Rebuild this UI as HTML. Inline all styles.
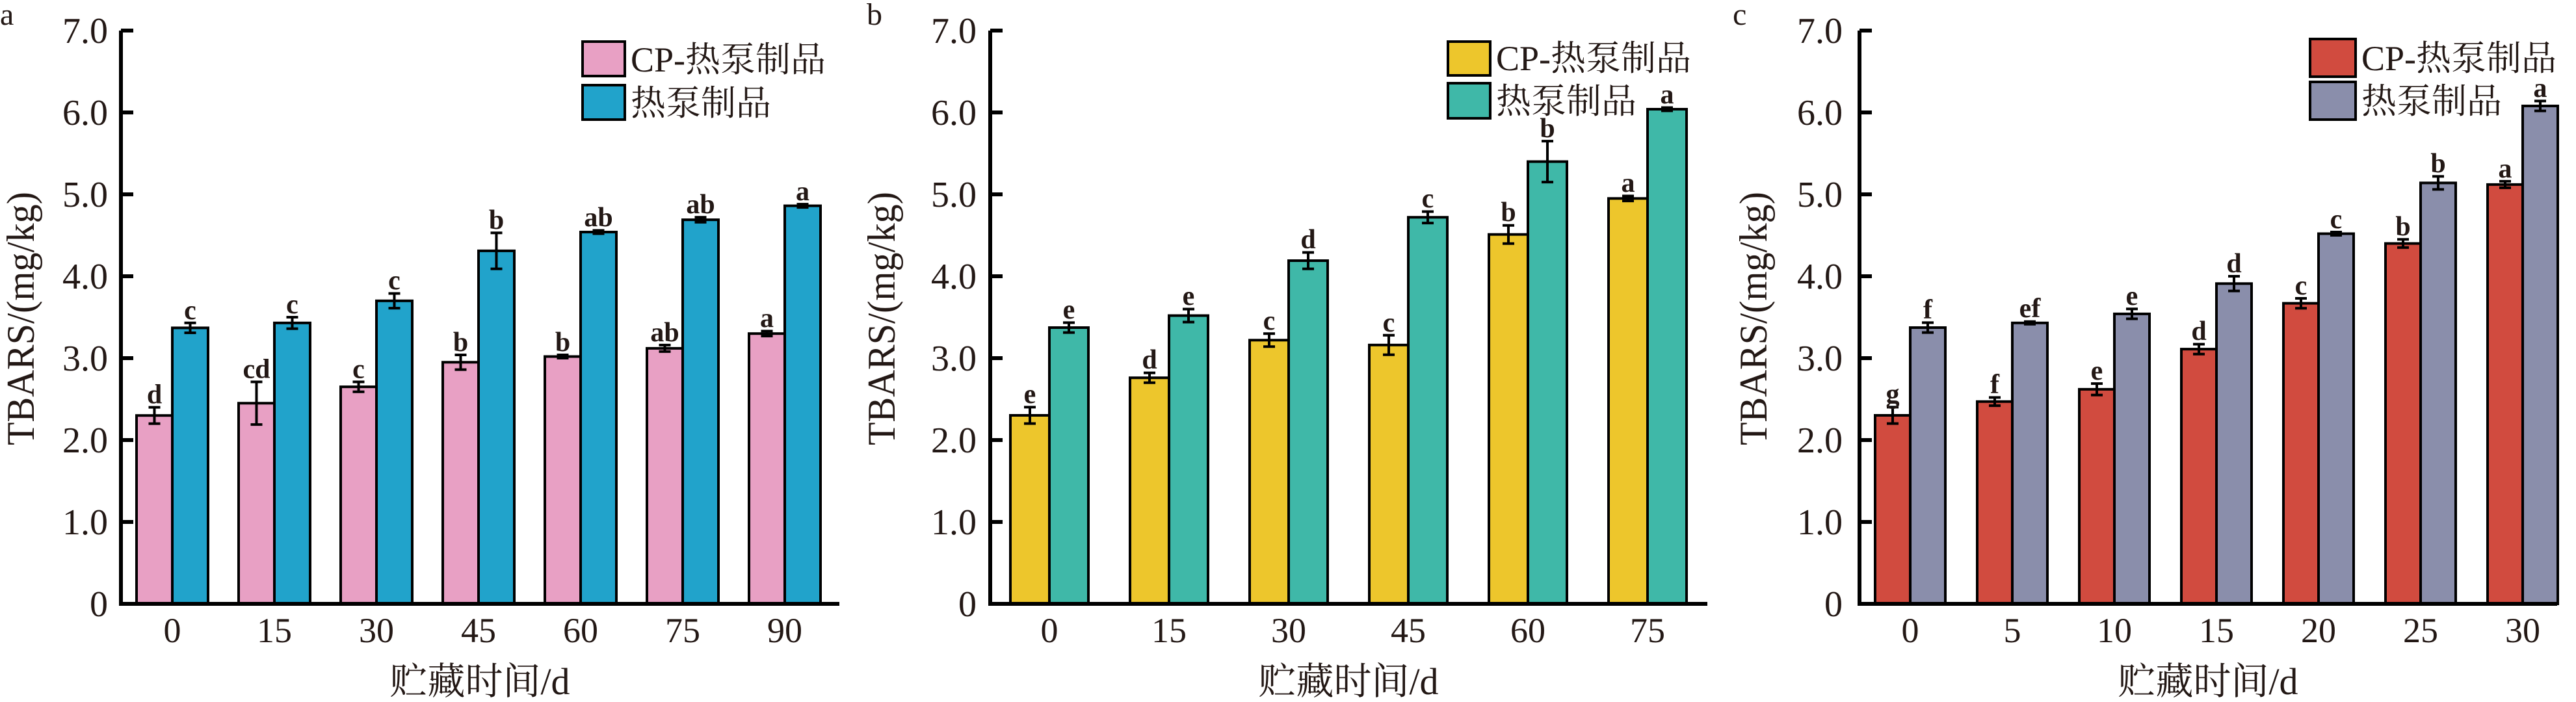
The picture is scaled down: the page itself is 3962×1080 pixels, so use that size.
<!DOCTYPE html>
<html><head><meta charset="utf-8"><style>
html,body{margin:0;padding:0;background:#fff}
svg{display:block}
text{font-family:"Liberation Serif","Noto Serif CJK SC",serif;fill:#231815}
.t{font-size:56px}
.x{font-size:54px;text-anchor:middle}
.ttl{font-size:58px;text-anchor:middle}
.yt{font-size:60px;text-anchor:middle}
.lg{font-size:54px}
.l{font-size:42px;font-weight:bold;text-anchor:middle}
.ax{fill:none;stroke:#000;stroke-width:6}
.e{fill:none;stroke:#000;stroke-width:4}
rect.b{stroke:#000;stroke-width:4}
</style></head><body>
<svg width="3962" height="1080" viewBox="0 0 3962 1080" xmlns="http://www.w3.org/2000/svg">
<text x="0" y="38" style="font-size:48px">a</text>
<text x="1333" y="38" style="font-size:48px">b</text>
<text x="2665" y="38" style="font-size:48px">c</text>

<!-- Panel a -->
<g transform="translate(186,0)">
<g fill="#E8A0C4">
<rect class="b" x="24" y="639.2" width="55" height="289.8"/>
<rect class="b" x="181" y="620.3" width="55" height="308.7"/>
<rect class="b" x="338" y="595.1" width="55" height="333.9"/>
<rect class="b" x="495" y="557.3" width="55" height="371.7"/>
<rect class="b" x="652" y="548.5" width="55" height="380.5"/>
<rect class="b" x="809" y="535.9" width="55" height="393.1"/>
<rect class="b" x="966" y="513.2" width="55" height="415.8"/>
</g>
<g fill="#21A3CB">
<rect class="b" x="79" y="504.4" width="55" height="424.6"/>
<rect class="b" x="236" y="496.8" width="55" height="432.2"/>
<rect class="b" x="393" y="462.8" width="55" height="466.2"/>
<rect class="b" x="550" y="385.9" width="55" height="543.1"/>
<rect class="b" x="707" y="357" width="55" height="572"/>
<rect class="b" x="864" y="338.1" width="55" height="590.9"/>
<rect class="b" x="1021" y="316.6" width="55" height="612.4"/>
</g>
<path class="e" d="M42.5,626.6H60.5M51.5,626.6V651.8M42.5,651.8H60.5 M199.5,587.5H217.5M208.5,587.5V653.1M199.5,653.1H217.5 M356.5,587.5H374.5M365.5,587.5V602.7M356.5,602.7H374.5 M513.5,546H531.5M522.5,546V568.6M513.5,568.6H531.5 M670.5,546H688.5M679.5,546V551M670.5,551H688.5 M827.5,530.9H845.5M836.5,530.9V540.9M827.5,540.9H845.5 M984.5,509.4H1002.5M993.5,509.4V517M984.5,517H1002.5
M97.5,496.8H115.5M106.5,496.8V512M97.5,512H115.5 M254.5,488H272.5M263.5,488V505.6M254.5,505.6H272.5 M411.5,451.5H429.5M420.5,451.5V474.1M411.5,474.1H429.5 M568.5,358.2H586.5M577.5,358.2V413.6M568.5,413.6H586.5 M725.5,354.5H743.5M734.5,354.5V359.5M725.5,359.5H743.5 M882.5,334.3H900.5M891.5,334.3V341.9M882.5,341.9H900.5 M1039.5,314.1H1057.5M1048.5,314.1V319.1M1039.5,319.1H1057.5"/>
<text class="l" x="51.5" y="620.6">d</text><text class="l" x="208.5" y="581.5">cd</text><text class="l" x="365.5" y="581.5">c</text><text class="l" x="522.5" y="540">b</text><text class="l" x="679.5" y="540">b</text><text class="l" x="836.5" y="525">ab</text><text class="l" x="993.5" y="503">a</text>
<text class="l" x="106.5" y="491">c</text><text class="l" x="263.5" y="482">c</text><text class="l" x="420.5" y="445">c</text><text class="l" x="577.5" y="352">b</text><text class="l" x="734.5" y="348">ab</text><text class="l" x="891.5" y="328">ab</text><text class="l" x="1048.5" y="308">a</text>
<path class="ax" d="M0,47V929H1105 M0,47h19 M0,173h19 M0,299h19 M0,425h19 M0,551h19 M0,677h19 M0,803h19"/>
<g class="t" text-anchor="end"><text x="-20" y="948">0</text><text x="-20" y="822">1.0</text><text x="-20" y="696">2.0</text><text x="-20" y="570">3.0</text><text x="-20" y="444">4.0</text><text x="-20" y="318">5.0</text><text x="-20" y="192">6.0</text><text x="-20" y="66">7.0</text></g>
<g class="x"><text x="79" y="988">0</text><text x="236" y="988">15</text><text x="393" y="988">30</text><text x="550" y="988">45</text><text x="707" y="988">60</text><text x="864" y="988">75</text><text x="1021" y="988">90</text></g>
<text class="ttl" x="552" y="1068">贮藏时间/d</text>
<text class="yt" transform="translate(-134,490) rotate(-90)" textLength="390" lengthAdjust="spacingAndGlyphs">TBARS/(mg/kg)</text>
<rect x="710" y="64" width="65" height="53" fill="#E8A0C4" stroke="#000" stroke-width="4"/>
<rect x="710" y="131" width="65" height="53" fill="#21A3CB" stroke="#000" stroke-width="4"/>
<text class="lg" x="784" y="110">CP-热泵制品</text>
<text class="lg" x="784" y="177">热泵制品</text>
</g>

<!-- Panel b -->
<g transform="translate(1523,0)">
<g fill="#EDC62C">
<rect class="b" x="31" y="639" width="60" height="290"/>
<rect class="b" x="215" y="581.2" width="60" height="347.8"/>
<rect class="b" x="399" y="523.3" width="60" height="405.7"/>
<rect class="b" x="583" y="530.8" width="60" height="398.2"/>
<rect class="b" x="767" y="360.7" width="60" height="568.3"/>
<rect class="b" x="951" y="305.3" width="60" height="623.7"/>
</g>
<g fill="#3FB8A8">
<rect class="b" x="91" y="504" width="60" height="425"/>
<rect class="b" x="275" y="485.5" width="60" height="443.5"/>
<rect class="b" x="459" y="401" width="60" height="528"/>
<rect class="b" x="643" y="334.3" width="60" height="594.7"/>
<rect class="b" x="827" y="248.6" width="60" height="680.4"/>
<rect class="b" x="1011" y="168" width="60" height="761"/>
</g>
<path class="e" d="M52,626.4H70M61,626.4V651.6M52,651.6H70 M236,573.6H254M245,573.6V588.8M236,588.8H254 M420,513.3H438M429,513.3V533.3M420,533.3H438 M604,515.8H622M613,515.8V545.8M604,545.8H622 M788,346.7H806M797,346.7V374.7M788,374.7H806 M972,301.5H990M981,301.5V309.1M972,309.1H990
M112,496.4H130M121,496.4V511.6M112,511.6H130 M296,475.5H314M305,475.5V495.5M296,495.5H314 M480,388.4H498M489,388.4V413.6M480,413.6H498 M664,325.5H682M673,325.5V343.1M664,343.1H682 M848,217.1H866M857,217.1V280.1M848,280.1H866 M1032,165.5H1050M1041,165.5V170.5M1032,170.5H1050"/>
<text class="l" x="61" y="620">e</text><text class="l" x="245" y="567">d</text><text class="l" x="429" y="507">c</text><text class="l" x="613" y="510">c</text><text class="l" x="797" y="340">b</text><text class="l" x="981" y="295">a</text>
<text class="l" x="121" y="490">e</text><text class="l" x="305" y="469">e</text><text class="l" x="489" y="382">d</text><text class="l" x="673" y="319">c</text><text class="l" x="857" y="211">b</text><text class="l" x="1041" y="159">a</text>
<path class="ax" d="M0,47V929H1103 M0,47h19 M0,173h19 M0,299h19 M0,425h19 M0,551h19 M0,677h19 M0,803h19"/>
<g class="t" text-anchor="end"><text x="-21" y="948">0</text><text x="-21" y="822">1.0</text><text x="-21" y="696">2.0</text><text x="-21" y="570">3.0</text><text x="-21" y="444">4.0</text><text x="-21" y="318">5.0</text><text x="-21" y="192">6.0</text><text x="-21" y="66">7.0</text></g>
<g class="x"><text x="91" y="988">0</text><text x="275" y="988">15</text><text x="459" y="988">30</text><text x="643" y="988">45</text><text x="827" y="988">60</text><text x="1011" y="988">75</text></g>
<text class="ttl" x="551" y="1068">贮藏时间/d</text>
<text class="yt" transform="translate(-147,490) rotate(-90)" textLength="390" lengthAdjust="spacingAndGlyphs">TBARS/(mg/kg)</text>
<rect x="704" y="64" width="65" height="52" fill="#EDC62C" stroke="#000" stroke-width="4"/>
<rect x="704" y="128" width="65" height="54" fill="#3FB8A8" stroke="#000" stroke-width="4"/>
<text class="lg" x="778" y="108">CP-热泵制品</text>
<text class="lg" x="778" y="174">热泵制品</text>
</g>

<!-- Panel c -->
<g transform="translate(2860,0)">
<g fill="#D14B3F">
<rect class="b" x="24" y="639" width="54" height="290"/>
<rect class="b" x="181" y="617.8" width="54" height="311.2"/>
<rect class="b" x="338" y="598.9" width="54" height="330.1"/>
<rect class="b" x="495" y="537.1" width="54" height="391.9"/>
<rect class="b" x="652" y="466.6" width="54" height="462.4"/>
<rect class="b" x="809" y="374.6" width="54" height="554.4"/>
<rect class="b" x="966" y="283.9" width="54" height="645.1"/>
</g>
<g fill="#8A8EAB">
<rect class="b" x="78" y="504" width="54" height="425"/>
<rect class="b" x="235" y="496.8" width="54" height="432.2"/>
<rect class="b" x="392" y="482.9" width="54" height="446.1"/>
<rect class="b" x="549" y="436.3" width="54" height="492.7"/>
<rect class="b" x="706" y="359.5" width="54" height="569.5"/>
<rect class="b" x="863" y="281.4" width="54" height="647.6"/>
<rect class="b" x="1020" y="163" width="54" height="766"/>
</g>
<path class="e" d="M42,626.4H60M51,626.4V651.6M42,651.6H60 M199,611.5H217M208,611.5V624.1M199,624.1H217 M356,590.1H374M365,590.1V607.7M356,607.7H374 M513,529.5H531M522,529.5V544.7M513,544.7H531 M670,459H688M679,459V474.2M670,474.2H688 M827,368.3H845M836,368.3V380.9M827,380.9H845 M984,278.9H1002M993,278.9V288.9M984,288.9H1002
M96,496.4H114M105,496.4V511.6M96,511.6H114 M253,494.8H271M262,494.8V498.8M253,498.8H271 M410,475.3H428M419,475.3V490.5M410,490.5H428 M567,425H585M576,425V447.6M567,447.6H585 M724,357H742M733,357V362M724,362H742 M881,271.4H899M890,271.4V291.4M881,291.4H899 M1038,155.4H1056M1047,155.4V170.6M1038,170.6H1056"/>
<text class="l" x="51" y="620">g</text><text class="l" x="208" y="605">f</text><text class="l" x="365" y="584">e</text><text class="l" x="522" y="523">d</text><text class="l" x="679" y="453">c</text><text class="l" x="836" y="362">b</text><text class="l" x="993" y="273">a</text>
<text class="l" x="105" y="490">f</text><text class="l" x="262" y="488">ef</text><text class="l" x="419" y="469">e</text><text class="l" x="576" y="419">d</text><text class="l" x="733" y="351">c</text><text class="l" x="890" y="265">b</text><text class="l" x="1047" y="149">a</text>
<path class="ax" d="M0,47V929H1073 M0,47h19 M0,173h19 M0,299h19 M0,425h19 M0,551h19 M0,677h19 M0,803h19"/>
<g class="t" text-anchor="end"><text x="-26" y="948">0</text><text x="-26" y="822">1.0</text><text x="-26" y="696">2.0</text><text x="-26" y="570">3.0</text><text x="-26" y="444">4.0</text><text x="-26" y="318">5.0</text><text x="-26" y="192">6.0</text><text x="-26" y="66">7.0</text></g>
<g class="x"><text x="78" y="988">0</text><text x="235" y="988">5</text><text x="392" y="988">10</text><text x="549" y="988">15</text><text x="706" y="988">20</text><text x="863" y="988">25</text><text x="1020" y="988">30</text></g>
<text class="ttl" x="536" y="1068">贮藏时间/d</text>
<text class="yt" transform="translate(-143,490) rotate(-90)" textLength="390" lengthAdjust="spacingAndGlyphs">TBARS/(mg/kg)</text>
<rect x="693" y="60" width="70" height="58" fill="#D14B3F" stroke="#000" stroke-width="4"/>
<rect x="693" y="126" width="70" height="58" fill="#8A8EAB" stroke="#000" stroke-width="4"/>
<text class="lg" x="772" y="108">CP-热泵制品</text>
<text class="lg" x="772" y="174">热泵制品</text>
</g>
</svg>
</body></html>
